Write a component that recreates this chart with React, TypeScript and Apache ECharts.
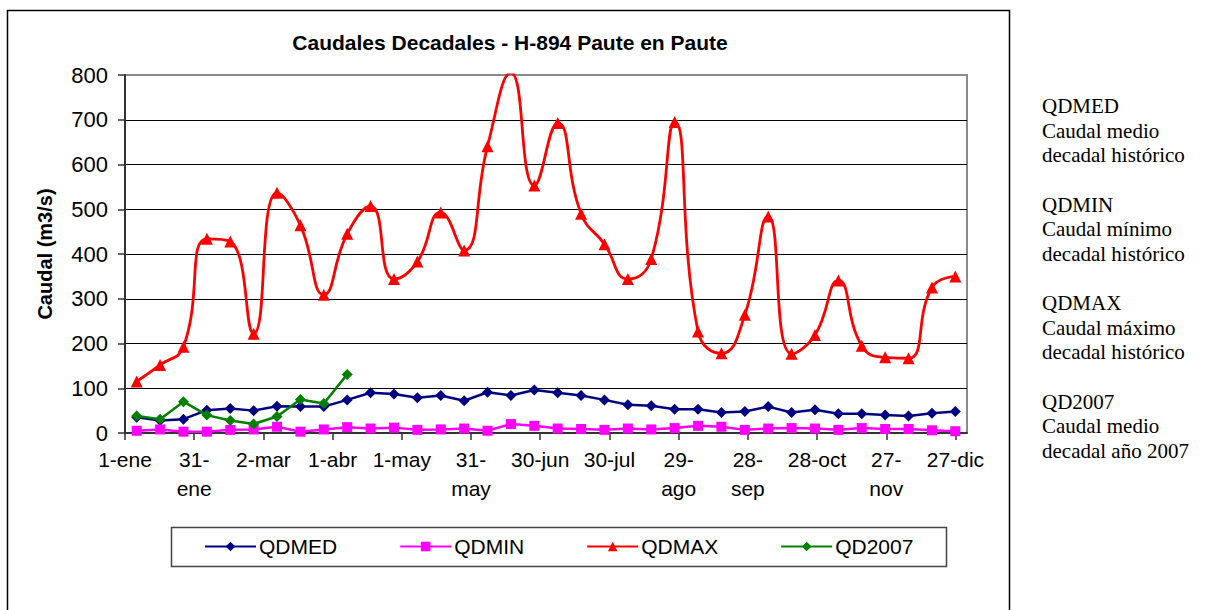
import React, { useEffect, useRef } from "react";
import * as echarts from "echarts";

const decades: string[] = [
  "ene-1", "ene-2", "ene-3", "feb-1", "feb-2", "feb-3", "mar-1", "mar-2", "mar-3",
  "abr-1", "abr-2", "abr-3", "may-1", "may-2", "may-3", "jun-1", "jun-2", "jun-3",
  "jul-1", "jul-2", "jul-3", "ago-1", "ago-2", "ago-3", "sep-1", "sep-2", "sep-3",
  "oct-1", "oct-2", "oct-3", "nov-1", "nov-2", "nov-3", "dic-1", "dic-2", "dic-3",
];

const tickLabels: string[] = [
  "1-ene", "31-\nene", "2-mar", "1-abr", "1-may", "31-\nmay", "30-jun",
  "30-jul", "29-\nago", "28-\nsep", "28-oct", "27-\nnov", "27-dic",
];

const qdmed: number[] = [
  35, 28, 31, 51, 55, 50, 60, 59, 59, 74, 90, 87,
  79, 84, 72, 91, 84, 96, 90, 84, 74, 63, 61, 53,
  53, 46, 48, 59, 46, 52, 43, 43, 40, 38, 44, 48,
];

const qdmin: number[] = [
  5, 8, 3, 3, 7, 8, 14, 3, 8, 13, 10, 12,
  7, 8, 10, 5, 20, 16, 10, 9, 7, 10, 8, 11,
  16, 14, 7, 10, 11, 10, 7, 11, 9, 9, 6, 4,
];

const qdmax: number[] = [
  115, 152, 193, 434, 428, 222, 537, 464, 309, 445, 507, 344,
  383, 493, 408, 641, 805, 553, 693, 490, 422, 344, 389, 695,
  227, 178, 264, 484, 177, 219, 341, 195, 169, 167, 325, 350,
];

const qd2007: (number | null)[] = [
  38, 31, 70, 40, 28, 20, 37, 75, 66, 131,
  null, null, null, null, null, null, null, null, null, null, null, null, null, null,
  null, null, null, null, null, null, null, null, null, null, null, null,
];

const notes: string[][] = [
  ["QDMED", "Caudal medio", "decadal histórico"],
  ["QDMIN", "Caudal mínimo", "decadal histórico"],
  ["QDMAX", "Caudal máximo", "decadal histórico"],
  ["QD2007", "Caudal medio", "decadal año 2007"],
];

const SANS = "'Liberation Sans', Arial, sans-serif";
const SERIF = "'Liberation Serif', 'Times New Roman', serif";

export default function App() {
  const ref = useRef<HTMLDivElement>(null);

  useEffect(() => {
    if (!ref.current) return;
    const chart = echarts.init(ref.current, undefined, { renderer: "svg" });

    const noteTexts: any[] = [];
    notes.forEach((group, gi) => {
      group.forEach((line, li) => {
        noteTexts.push({
          type: "text",
          x: 1042,
          y: 106 + gi * 98.5 + li * 24.6,
          style: {
            text: line,
            font: `21px ${SERIF}`,
            fill: "#000",
            textAlign: "left",
            textVerticalAlign: "middle",
          },
        });
      });
    });

    const option: any = {
      animation: false,
      backgroundColor: "#fff",
      grid: {
        left: 125,
        top: 75,
        right: 239,
        bottom: 177,
        show: true,
        borderColor: "#8a8a8a",
        borderWidth: 2,
        backgroundColor: "transparent",
      },
      xAxis: [
        {
          type: "category",
          data: decades,
          position: "top",
          boundaryGap: true,
          show: false,
        },
        {
          type: "value",
          position: "bottom",
          min: 0,
          max: 365,
          interval: 30,
          axisLine: { show: true, lineStyle: { color: "#333", width: 2 } },
          axisTick: { show: true, length: 7, lineStyle: { color: "#333", width: 1.5 } },
          splitLine: { show: false },
          axisLabel: {
            color: "#000",
            fontFamily: SANS,
            fontSize: 21,
            lineHeight: 29,
            margin: 12,
            showMaxLabel: false,
            formatter: (v: number) => {
              const i = Math.round(v / 30);
              return v % 30 === 0 && i < tickLabels.length ? tickLabels[i] : "";
            },
          },
        },
      ],
      yAxis: {
        type: "value",
        min: 0,
        max: 800,
        interval: 100,
        name: "Caudal (m3/s)",
        nameLocation: "middle",
        nameGap: 70,
        nameTextStyle: {
          fontFamily: SANS,
          fontSize: 20,
          fontWeight: "bold",
          color: "#000",
        },
        axisLine: { show: true, lineStyle: { color: "#333", width: 2 } },
        axisTick: { show: true, length: 7, lineStyle: { color: "#333", width: 1.5 } },
        axisLabel: {
          color: "#000",
          fontFamily: SANS,
          fontSize: 22,
          margin: 17,
        },
        splitLine: {
          show: true,
          showMaxLine: false,
          lineStyle: { color: "#000", width: 1 },
        },
      },
      legend: {
        left: 204,
        top: 536,
        padding: 0,
        itemGap: 62,
        itemWidth: 51,
        itemHeight: 12,
        textStyle: { fontFamily: SANS, fontSize: 21, color: "#000", padding: [0, 0, 0, -2] },
        data: ["QDMED", "QDMIN", "QDMAX", "QD2007"],
      },
      graphic: [
        {
          type: "rect",
          shape: { x: 7.5, y: 10.5, width: 1002, height: 700 },
          style: { fill: "none", stroke: "#000", lineWidth: 1.5 },
          silent: true,
          z: -1,
        },
        {
          type: "rect",
          shape: { x: 171.5, y: 527.5, width: 775, height: 39 },
          style: { fill: "none", stroke: "#444", lineWidth: 1.5 },
          silent: true,
        },
        {
          type: "text",
          x: 510,
          y: 42,
          style: {
            text: "Caudales Decadales - H-894 Paute en Paute",
            font: `bold 21px ${SANS}`,
            fill: "#000",
            textAlign: "center",
            textVerticalAlign: "middle",
          },
        },
        ...noteTexts,
      ],
      series: [
        {
          name: "QDMED",
          type: "line",
          data: qdmed,
          xAxisIndex: 0,
          symbol: "diamond",
          symbolSize: 11,
          lineStyle: { color: "#000080", width: 2.5 },
          itemStyle: { color: "#000080" },
          z: 3,
        },
        {
          name: "QDMIN",
          type: "line",
          data: qdmin,
          xAxisIndex: 0,
          symbol: "rect",
          symbolSize: 10,
          lineStyle: { color: "#ff00ff", width: 2.5 },
          itemStyle: { color: "#ff00ff" },
          z: 3,
        },
        {
          name: "QDMAX",
          type: "line",
          data: qdmax,
          xAxisIndex: 0,
          smooth: 0.5,
          clip: true,
          symbol: "triangle",
          symbolSize: 12,
          lineStyle: { color: "#ff0000", width: 2.8 },
          itemStyle: { color: "#ff0000" },
          z: 3,
        },
        {
          name: "QD2007",
          type: "line",
          data: qd2007,
          xAxisIndex: 0,
          symbol: "diamond",
          symbolSize: 11,
          connectNulls: false,
          lineStyle: { color: "#008000", width: 2.5 },
          itemStyle: { color: "#008000" },
          z: 4,
        },
      ],
    };

    chart.setOption(option);
    return () => chart.dispose();
  }, []);

  return (
    <div
      ref={ref}
      style={{ position: "fixed", left: 0, top: 0, width: 1206, height: 610, background: "#fff" }}
    />
  );
}
